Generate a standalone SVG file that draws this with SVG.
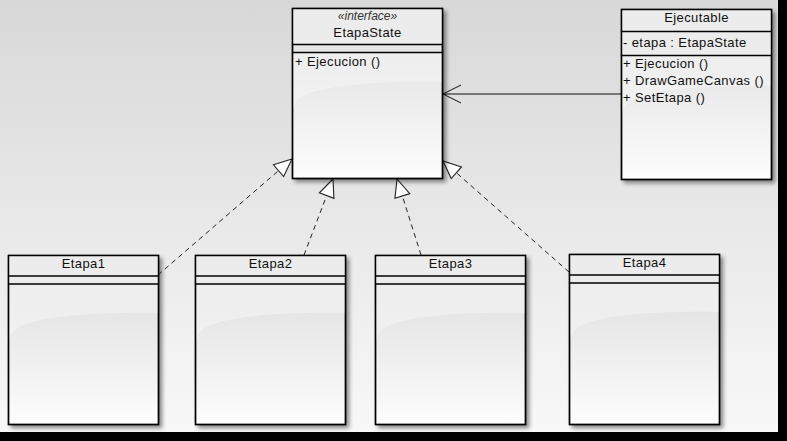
<svg xmlns="http://www.w3.org/2000/svg" width="787" height="441" viewBox="0 0 787 441">
  <style>
    .box { stroke: #000; stroke-width: 1.4; }
    .body { fill: url(#bodyGrad); }
    .title { fill: #ececec; }
    .gloss { fill: #ffffff; opacity: 0.35; }
    .sep { stroke: #000; stroke-width: 1.4; fill: none; }
    .t { font-family: "Liberation Sans", Arial, sans-serif; font-size: 13px; letter-spacing: 0.4px; fill: #111; }
    .c { text-anchor: middle; }
    .st { font-family: "Liberation Sans", Arial, sans-serif; font-size: 12px; font-style: italic; fill: #333; text-anchor: middle; }
    .dash { stroke: #222; stroke-width: 1; stroke-dasharray: 5 4; fill: none; marker-end: url(#tri); }
    .assoc { stroke: #111; stroke-width: 1; fill: none; marker-end: url(#open); }
  </style>
  <defs>
    <linearGradient id="bg" x1="0" y1="0" x2="0" y2="1">
      <stop offset="0" stop-color="#d8d8d8"/>
      <stop offset="1" stop-color="#f8f8f8"/>
    </linearGradient>
    <linearGradient id="bodyGrad" x1="0" y1="0" x2="0" y2="1">
      <stop offset="0" stop-color="#e3e3e3"/>
      <stop offset="0.35" stop-color="#e6e6e6"/>
      <stop offset="1" stop-color="#fdfdfd"/>
    </linearGradient>
    <filter id="shadow" x="-10%" y="-10%" width="125%" height="125%">
      <feDropShadow dx="3" dy="3" stdDeviation="2" flood-color="#000" flood-opacity="0.45"/>
    </filter>
    <marker id="tri" markerUnits="userSpaceOnUse" markerWidth="20" markerHeight="20" viewBox="-17 -9 18 18" refX="0" refY="0" orient="auto">
      <path d="M0,0 L-16,-7 L-16,7 Z" fill="#fff" stroke="#222" stroke-width="1"/>
    </marker>
    <marker id="open" markerUnits="userSpaceOnUse" markerWidth="22" markerHeight="22" viewBox="-20 -11 22 22" refX="0" refY="0" orient="auto">
      <path d="M-18,-9 L0,0 L-18,9" fill="none" stroke="#111" stroke-width="1"/>
    </marker>
  </defs>

  <rect x="0" y="0" width="787" height="441" fill="#000"/>
  <rect x="0" y="0" width="778" height="432" fill="url(#bg)"/>

  <g id="connectors">
    <line class="assoc" x1="621" y1="94" x2="443" y2="94"/>
    <line class="dash" x1="158" y1="275" x2="292" y2="159"/>
    <line class="dash" x1="304" y1="255" x2="333" y2="179"/>
    <line class="dash" x1="421" y1="255" x2="397" y2="179"/>
    <line class="dash" x1="569" y1="272" x2="443" y2="161"/>
  </g>

  <g id="EtapaState">
    <g filter="url(#shadow)">
      <rect class="box body" x="292.5" y="8.5" width="150" height="170"/>
    </g>
    <rect class="title" x="293.2" y="9.2" width="148.6" height="34.8"/>
    <path class="gloss" d="M293.2,52.5 H441.8 V82 C390,81 320,84 300,98 Q294,103 293.2,110 Z"/>
    <line class="sep" x1="292.5" y1="44.5" x2="442.5" y2="44.5"/>
    <line class="sep" x1="292.5" y1="52.5" x2="442.5" y2="52.5"/>
    <rect x="292.5" y="8.5" width="150" height="170" fill="none" stroke="#000" stroke-width="1.4"/>
    <text class="st" x="367.5" y="19.5">«interface»</text>
    <text class="t c" x="367.5" y="36.5">EtapaState</text>
    <text class="t" x="295" y="66">+ Ejecucion ()</text>
  </g>

  <g id="Ejecutable">
    <g filter="url(#shadow)">
      <rect class="box body" x="621.5" y="9.5" width="150" height="170"/>
    </g>
    <rect class="title" x="622.2" y="10.2" width="148.6" height="44.8"/>
    <path class="gloss" d="M622.2,55.5 H770.8 V86 C719,85 649,88 629,102 Q623,107 622.2,114 Z"/>
    <line class="sep" x1="621.5" y1="31.5" x2="771.5" y2="31.5"/>
    <line class="sep" x1="621.5" y1="55.5" x2="771.5" y2="55.5"/>
    <rect x="621.5" y="9.5" width="150" height="170" fill="none" stroke="#000" stroke-width="1.4"/>
    <text class="t c" x="696.5" y="22">Ejecutable</text>
    <text class="t" x="623" y="47">- etapa : EtapaState</text>
    <text class="t" x="623" y="68">+ Ejecucion ()</text>
    <text class="t" x="623" y="84.5">+ DrawGameCanvas ()</text>
    <text class="t" x="623" y="102">+ SetEtapa ()</text>
  </g>

  <g id="Etapa1">
    <g filter="url(#shadow)">
      <rect class="box body" x="8.5" y="255.5" width="150" height="169"/>
    </g>
    <rect class="title" x="9.2" y="256.2" width="148.6" height="27.6"/>
    <path class="gloss" d="M9.2,284.5 H157.8 V313 C106,312 36,315 16,329 Q10,334 9.2,341 Z"/>
    <line class="sep" x1="8.5" y1="276" x2="158.5" y2="276"/>
    <line class="sep" x1="8.5" y1="284" x2="158.5" y2="284"/>
    <rect x="8.5" y="255.5" width="150" height="169" fill="none" stroke="#000" stroke-width="1.4"/>
    <text class="t c" x="83.5" y="267.5">Etapa1</text>
  </g>

  <g id="Etapa2">
    <g filter="url(#shadow)">
      <rect class="box body" x="195.5" y="255.5" width="150" height="169"/>
    </g>
    <rect class="title" x="196.2" y="256.2" width="148.6" height="27.6"/>
    <path class="gloss" d="M196.2,284.5 H344.8 V313 C293,312 223,315 203,329 Q197,334 196.2,341 Z"/>
    <line class="sep" x1="195.5" y1="276" x2="345.5" y2="276"/>
    <line class="sep" x1="195.5" y1="284" x2="345.5" y2="284"/>
    <rect x="195.5" y="255.5" width="150" height="169" fill="none" stroke="#000" stroke-width="1.4"/>
    <text class="t c" x="270.5" y="267.5">Etapa2</text>
  </g>

  <g id="Etapa3">
    <g filter="url(#shadow)">
      <rect class="box body" x="375.5" y="255.5" width="150" height="169"/>
    </g>
    <rect class="title" x="376.2" y="256.2" width="148.6" height="27.6"/>
    <path class="gloss" d="M376.2,284.5 H524.8 V313 C473,312 403,315 383,329 Q377,334 376.2,341 Z"/>
    <line class="sep" x1="375.5" y1="276" x2="525.5" y2="276"/>
    <line class="sep" x1="375.5" y1="284" x2="525.5" y2="284"/>
    <rect x="375.5" y="255.5" width="150" height="169" fill="none" stroke="#000" stroke-width="1.4"/>
    <text class="t c" x="450.5" y="267.5">Etapa3</text>
  </g>

  <g id="Etapa4">
    <g filter="url(#shadow)">
      <rect class="box body" x="569.5" y="254.5" width="150" height="170"/>
    </g>
    <rect class="title" x="570.2" y="255.2" width="148.6" height="27.6"/>
    <path class="gloss" d="M570.2,283.5 H718.8 V312 C667,311 597,314 577,328 Q571,333 570.2,340 Z"/>
    <line class="sep" x1="569.5" y1="275" x2="719.5" y2="275"/>
    <line class="sep" x1="569.5" y1="283" x2="719.5" y2="283"/>
    <rect x="569.5" y="254.5" width="150" height="170" fill="none" stroke="#000" stroke-width="1.4"/>
    <text class="t c" x="644.5" y="266.5">Etapa4</text>
  </g>
</svg>
